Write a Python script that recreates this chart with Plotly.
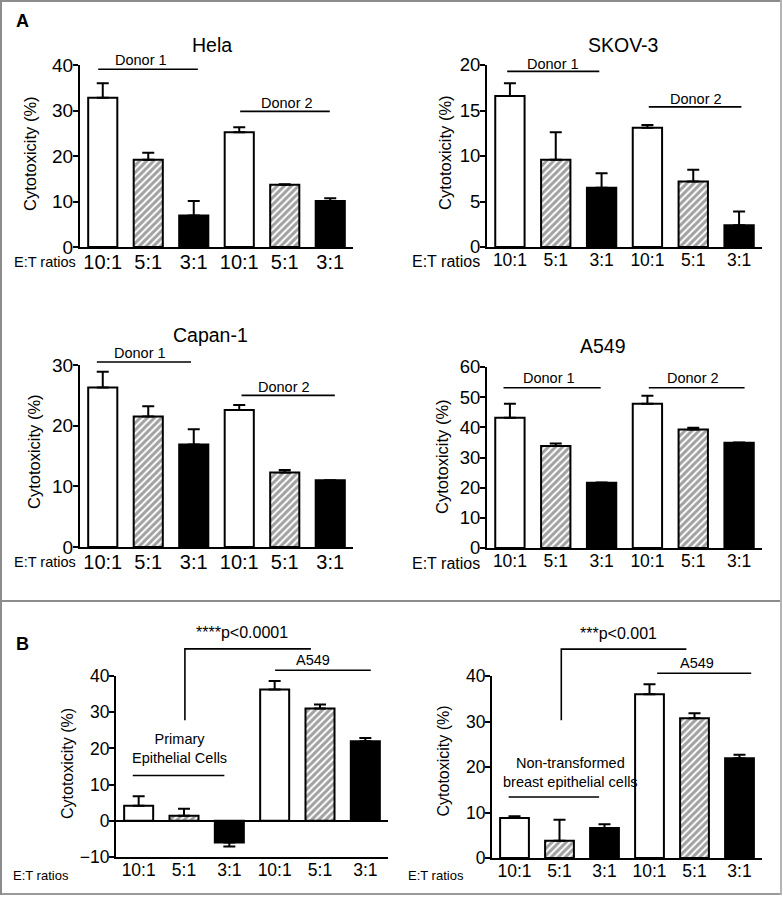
import plotly.graph_objects as go

W, H = 783, 898
FONT = "Liberation Sans, Arial, sans-serif"

# ---------------- data ----------------
ratios = ["10:1", "5:1", "3:1", "10:1", "5:1", "3:1"]
positions = [0, 1, 2, 3, 4, 5]
fill_colors = ["white", "white", "black", "white", "white", "black"]
hatch = ["", "/", "", "", "/", ""]

hela_mean = [32.8, 19.2, 6.9, 25.2, 13.7, 10.1]
hela_err = [3.2, 1.5, 3.2, 1.1, 0.1, 0.6]
skov_mean = [16.6, 9.6, 6.5, 13.1, 7.2, 2.4]
skov_err = [1.4, 3.0, 1.6, 0.3, 1.3, 1.5]
capan_mean = [26.3, 21.5, 16.9, 22.6, 12.3, 11.0]
capan_err = [2.6, 1.7, 2.5, 0.8, 0.4, 0.0]
a549_mean = [43.2, 33.8, 21.6, 47.8, 39.3, 34.9]
a549_err = [4.6, 0.8, 0.1, 2.7, 0.6, 0.1]
primary_mean = [4.15, 1.4, -6.0, 36.3, 31.0, 22.0]
primary_err = [2.6, 1.9, 1.1, 2.3, 1.1, 0.9]
breast_mean = [8.8, 3.8, 6.6, 36.0, 30.7, 21.9]
breast_err = [0.4, 4.6, 0.8, 2.2, 1.1, 0.8]

# group label lines: (x_start, x_end, level) and labels (x, y, text)
hela_lines = [(-0.1, 2.09, 39.05), (3.02, 4.99, 29.8)]
hela_labels = [(0.84, 41.1, "Donor 1"), (4.05, 31.7, "Donor 2")]
skov_lines = [(-0.06, 1.95, 19.3), (3.03, 5.05, 15.4)]
skov_labels = [(0.95, 20.1, "Donor 1"), (4.07, 16.3, "Donor 2")]
capan_lines = [(-0.13, 1.94, 30.5), (3.05, 5.1, 25.0)]
capan_labels = [(0.82, 31.9, "Donor 1"), (3.99, 26.4, "Donor 2")]
a549_lines = [(-0.14, 1.98, 53.1), (3.03, 5.12, 53.1)]
a549_labels = [(0.85, 56.2, "Donor 1"), (4.0, 56.2, "Donor 2")]
primary_lines = [(-0.13, 1.89, 12.5), (3.01, 5.12, 41.6)]
primary_labels = [(0.91, 20.0, "Primary<br>Epithelial Cells"), (3.85, 44.3, "A549"),
                  (2.28, 51.9, "****p<0.0001")]
primary_bracket = ([1.02, 1.02, 3.8], [27.8, 47.5, 47.5])
breast_lines = [(-0.13, 1.88, 13.4), (3.17, 5.26, 40.6)]
breast_labels = [(1.24, 18.8, "Non-transformed<br>breast epithelial cells"), (4.06, 42.8, "A549"),
                 (2.3, 49.4, "***p<0.001")]
breast_bracket = ([1.04, 1.04, 3.82], [30.3, 45.9, 45.9])


def fx(p):
    return p / W


def fy(p):
    return 1 - p / H


charts = [
    dict(title="Hela", mean=hela_mean, err=hela_err, lines=hela_lines, labels=hela_labels, bracket=None,
         xd=(80, 353), yd=(65, 247), yext=30, rng=(0, 40), dtick=10,
         tpos=(212, 45), ytpos=(30, 153), etpos=(45, 262), tick=20, ytick=19, et=14.5, zero=False),
    dict(title="SKOV-3", mean=skov_mean, err=skov_err, lines=skov_lines, labels=skov_labels, bracket=None,
         xd=(487, 762), yd=(65, 247), yext=30, rng=(0, 20), dtick=5,
         tpos=(623, 45.5), ytpos=(445, 152), etpos=(446, 262), tick=17.5, ytick=18.5, et=16, zero=False),
    dict(title="Capan-1", mean=capan_mean, err=capan_err, lines=capan_lines, labels=capan_labels, bracket=None,
         xd=(80, 353), yd=(365, 547), yext=320, rng=(0, 30), dtick=10,
         tpos=(210, 335), ytpos=(34, 452), etpos=(45, 562), tick=20, ytick=19, et=14.5, zero=False),
    dict(title="A549", mean=a549_mean, err=a549_err, lines=a549_lines, labels=a549_labels, bracket=None,
         xd=(487, 762), yd=(367, 548), yext=320, rng=(0, 60), dtick=10,
         tpos=(603, 345.5), ytpos=(442, 457), etpos=(446, 563), tick=17.5, ytick=18.5, et=16, zero=False),
    dict(title=None, mean=primary_mean, err=primary_err, lines=primary_lines, labels=primary_labels,
         bracket=primary_bracket,
         xd=(116, 388), yd=(676, 857), yext=620, rng=(-10, 40), dtick=10,
         tpos=None, ytpos=(67, 764), etpos=(41, 875), tick=17.5, ytick=17.5, et=13, zero=True),
    dict(title=None, mean=breast_mean, err=breast_err, lines=breast_lines, labels=breast_labels,
         bracket=breast_bracket,
         xd=(492, 762), yd=(676, 858), yext=620, rng=(0, 40), dtick=10,
         tpos=None, ytpos=(442.5, 761), etpos=(436, 875), tick=17.5, ytick=17.5, et=13, zero=False),
]

fig = go.Figure()
annotations = []
shapes = []
layout = {}

for i, c in enumerate(charts, start=1):
    xs = "x" if i == 1 else f"x{i}"
    ys = "y" if i == 1 else f"y{i}"
    ye = f"y{i + 6}"
    xkey = "xaxis" if i == 1 else f"xaxis{i}"
    ykey = "yaxis" if i == 1 else f"yaxis{i}"
    yekey = f"yaxis{i + 6}"
    lo, hi = c["rng"]
    top_px, bot_px = c["yd"]
    ext_hi = lo + (hi - lo) * (bot_px - c["yext"]) / (bot_px - top_px)

    layout[xkey] = dict(domain=[fx(c["xd"][0]), fx(c["xd"][1])], range=[-0.5, 5.5], anchor=ys,
                        showline=True, linecolor="black", linewidth=2, ticks="",
                        tickvals=positions, ticktext=ratios, showgrid=False, zeroline=False,
                        automargin=False, ticklabelstandoff=-4,
                        tickfont=dict(family=FONT, size=c["tick"], color="black"), fixedrange=True)
    layout[ykey] = dict(domain=[fy(bot_px), fy(top_px)], range=[lo, hi], anchor=xs,
                        showline=True, linecolor="black", linewidth=2, ticks="outside",
                        ticklen=5, tickwidth=2, tickcolor="black", dtick=c["dtick"], tick0=0,
                        showgrid=False, zeroline=c["zero"], zerolinecolor="black", zerolinewidth=2,
                        automargin=False, ticklabelstandoff=-4,
                        tickfont=dict(family=FONT, size=c["ytick"], color="black"), fixedrange=True)
    layout[yekey] = dict(domain=[fy(bot_px), fy(c["yext"])], range=[lo, ext_hi], anchor=xs,
                         visible=False, fixedrange=True, automargin=False)

    plus = [e if m >= 0 else 0 for m, e in zip(c["mean"], c["err"])]
    minus = [0 if m >= 0 else e for m, e in zip(c["mean"], c["err"])]
    fig.add_trace(go.Bar(
        x=positions, y=c["mean"], width=0.64, xaxis=xs, yaxis=ys,
        marker=dict(color=fill_colors, line=dict(color="black", width=2),
                    pattern=dict(shape=hatch, fgcolor="black", bgcolor="white", size=5,
                                 solidity=0.6, fillmode="overlay")),
        error_y=dict(type="data", symmetric=False, array=plus, arrayminus=minus,
                     color="black", thickness=2, width=6),
        showlegend=False, hoverinfo="skip"))

    for (a, b, v) in c["lines"]:
        fig.add_trace(go.Scatter(x=[a, b], y=[v, v], mode="lines", xaxis=xs, yaxis=ye,
                                 line=dict(color="black", width=1.6),
                                 showlegend=False, hoverinfo="skip"))
    if c["bracket"] is not None:
        bx, by = c["bracket"]
        fig.add_trace(go.Scatter(x=bx, y=by, mode="lines", xaxis=xs, yaxis=ye,
                                 line=dict(color="black", width=1.6),
                                 showlegend=False, hoverinfo="skip"))
    for (tx, ty, txt) in c["labels"]:
        size = 16 if "p<" in txt else 14.5
        annotations.append(dict(x=tx, y=ty, xref=xs, yref=ye, text=txt, showarrow=False,
                                xanchor="center", yanchor="middle",
                                font=dict(family=FONT, size=size, color="black")))

    if c["title"]:
        annotations.append(dict(x=fx(c["tpos"][0]), y=fy(c["tpos"][1]), xref="paper", yref="paper",
                                text=c["title"], showarrow=False, xanchor="center", yanchor="middle",
                                font=dict(family=FONT, size=19.5, color="black")))
    annotations.append(dict(x=fx(c["ytpos"][0]), y=fy(c["ytpos"][1]), xref="paper", yref="paper",
                            text="Cytotoxicity (%)", textangle=-90, showarrow=False,
                            xanchor="center", yanchor="middle",
                            font=dict(family=FONT, size=16.5 if i <= 4 else 16, color="black")))
    annotations.append(dict(x=fx(c["etpos"][0]), y=fy(c["etpos"][1]), xref="paper", yref="paper",
                            text="E:T ratios", showarrow=False, xanchor="center", yanchor="middle",
                            font=dict(family=FONT, size=c["et"], color="black")))

# panel letters
annotations.append(dict(x=fx(22), y=fy(21), xref="paper", yref="paper", text="<b>A</b>",
                        showarrow=False, xanchor="center", yanchor="middle",
                        font=dict(family=FONT, size=18, color="black")))
annotations.append(dict(x=fx(22), y=fy(644), xref="paper", yref="paper", text="<b>B</b>",
                        showarrow=False, xanchor="center", yanchor="middle",
                        font=dict(family=FONT, size=18, color="black")))


# panel frames
def hline(y, x0, x1, color):
    shapes.append(dict(type="line", xref="paper", yref="paper", x0=fx(x0), x1=fx(x1),
                       y0=fy(y), y1=fy(y), line=dict(color=color, width=2)))


def vline(x, y0, y1, color):
    shapes.append(dict(type="line", xref="paper", yref="paper", x0=fx(x), x1=fx(x),
                       y0=fy(y0), y1=fy(y1), line=dict(color=color, width=2)))


hline(1, 0, 782, "#8c8c8c")
hline(601, 0, 782, "#8c8c8c")
hline(894, 0, 782, "#9a9a9a")
vline(1, 0, 895, "#8c8c8c")
vline(781, 0, 895, "#b4b4b4")

fig.update_layout(template="none", width=W, height=H, margin=dict(l=0, r=0, t=0, b=0, pad=0),
                  autosize=False,
                  paper_bgcolor="white", plot_bgcolor="rgba(0,0,0,0)",
                  annotations=annotations, shapes=shapes, barmode="overlay",
                  font=dict(family=FONT, color="black"), **layout)

fig.write_html("out.html", config={"displayModeBar": False, "staticPlot": True},
               post_script="document.body.style.margin='0px';document.body.style.overflow='hidden';")
